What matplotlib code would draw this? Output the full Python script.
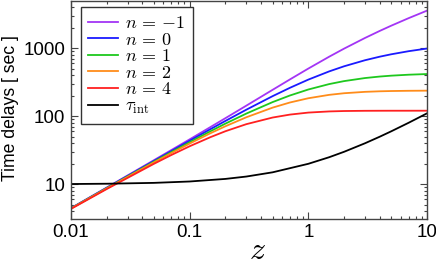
import matplotlib
matplotlib.use("Agg")
from matplotlib import pyplot as plt
from matplotlib.ticker import FixedLocator, FixedFormatter, LogLocator, NullFormatter

# redshift grid and delays [sec]
z = [0.01, 0.02, 0.05, 0.07, 0.1, 0.15, 0.2, 0.3, 0.5, 0.7, 1, 1.5, 2, 3, 4, 5, 7, 10]
tau_nm1 = [4.47, 8.97, 22.6, 31.8, 45.7, 69.4, 93.4, 142.6, 243.6, 346.3, 499.7, 746.8, 979.6, 1404, 1784, 2129, 2744, 3538]
tau_n0 = [4.45, 8.88, 22.05, 30.7, 43.6, 64.6, 85.1, 124.4, 196.7, 260.9, 344.1, 454.4, 539.4, 661.9, 746.7, 809.7, 898.5, 983.1]
tau_n1 = [4.43, 8.79, 21.5, 29.7, 41.5, 60.2, 77.7, 109.1, 160.9, 201.2, 246.3, 295.9, 327.0, 362.6, 381.6, 393.1, 406.0, 415.2]
tau_n2 = [4.41, 8.70, 21.0, 28.7, 39.6, 56.3, 71.1, 96.3, 133.5, 158.8, 183.3, 205.6, 217.1, 227.5, 231.8, 233.9, 235.8, 236.8]
tau_n4 = [4.36, 8.52, 20.0, 26.9, 36.2, 49.3, 60.1, 76.3, 95.5, 105.5, 112.9, 117.4, 119.0, 119.9, 120.1, 120.2, 120.2, 120.3]

z_int = [0.01, 0.02, 0.05, 0.1, 0.2, 0.3, 0.5, 1, 1.5, 2, 3, 4, 5, 7, 10]
tau_int = [10.1, 10.2, 10.5, 11, 12, 13, 15, 20, 25, 30, 40, 50, 60, 80, 110]

labels = [r'$n\,=\,{-1}$', r'$n\,=\,0$', r'$n\,=\,1$', r'$n\,=\,2$', r'$n\,=\,4$', r'$\tau_{\rm int}$']
colors = ['#A335F5', '#1A1AFF', '#1EC81E', '#FF8C1A', '#FF2020', 'black']

x_ticks = [0.01, 0.1, 1, 10]
x_ticklabels = ['0.01', '0.1', '1', '10']
y_ticks = [10, 100, 1000]
y_ticklabels = ['10', '100', '1000']

plt.rcParams['mathtext.fontset'] = 'cm'
plt.rcParams['font.family'] = ['Liberation Sans', 'DejaVu Sans']

fig = plt.figure(figsize=(4.36, 2.62), dpi=100)
ax = fig.add_axes([71 / 436, 1 - 218.5 / 262, 356 / 436, 217.5 / 262])

series = [tau_nm1, tau_n0, tau_n1, tau_n2, tau_n4]
for vals, lab, col in zip(series, labels[:5], colors[:5]):
    ax.plot(z, vals, color=col, lw=1.3, label=lab)
ax.plot(z_int, tau_int, color=colors[5], lw=1.3, label=labels[5])

ax.set_xscale('log')
ax.set_yscale('log')
ax.set_xlim(0.01, 10)
ax.set_ylim(3.15, 4900)

ax.xaxis.set_major_locator(FixedLocator(x_ticks))
ax.xaxis.set_major_formatter(FixedFormatter(x_ticklabels))
ax.yaxis.set_major_locator(FixedLocator(y_ticks))
ax.yaxis.set_major_formatter(FixedFormatter(y_ticklabels))
for axis in (ax.xaxis, ax.yaxis):
    axis.set_minor_locator(LogLocator(base=10, subs=range(2, 10), numticks=20))
    axis.set_minor_formatter(NullFormatter())

ax.tick_params(which='both', direction='in', top=True, right=True, color='#444444', width=0.8)
ax.tick_params(which='major', length=5, labelsize=13.5, pad=4)
ax.tick_params(which='minor', length=2.5)
for s in ax.spines.values():
    s.set_color('#444444')
    s.set_linewidth(1.0)

ax.set_ylabel('Time delays [ sec ]', fontsize=12.7)
ax.yaxis.set_label_coords(-0.146, 0.51)
ax.set_xlabel(r'$z$', fontsize=23)
ax.xaxis.set_label_coords(0.525, -0.185)
ax.xaxis.label.set_va('baseline')

leg = ax.legend(loc='upper left', bbox_to_anchor=(0.0272, 0.971), borderaxespad=0,
                fontsize=13, handlelength=1.65, handletextpad=0.38, labelspacing=-0.02,
                borderpad=0.42, fancybox=False, framealpha=1, edgecolor='#333333')
leg.get_frame().set_linewidth(1.0)

plt.savefig('out.png', dpi=100)
